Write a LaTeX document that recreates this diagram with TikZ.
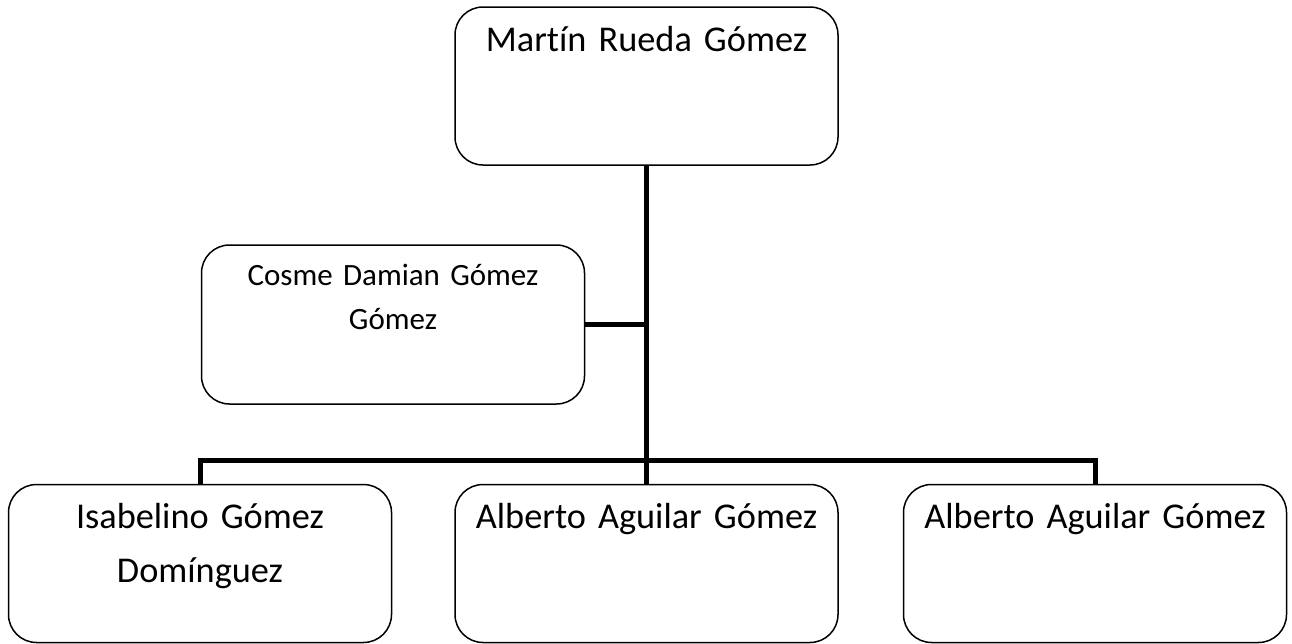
\documentclass[tikz,border=0pt]{standalone}
\usepackage{fontspec}
\setmainfont{Carlito}[Ligatures=NoCommon]
\usepackage{tikz}
\usetikzlibrary{positioning}
\newcommand{\namefont}{\fontsize{36.3pt}{54pt}\selectfont}
\newcommand{\smallnamefont}{\fontsize{31pt}{44pt}\selectfont}
\tikzset{
  wire/.style={line width=5pt,draw=black},
  person/.style={draw=black,line width=1.5pt,rounded corners=28pt,fill=white,align=center,inner sep=0pt,
    text width=375pt,minimum width=383pt,text height=44pt,text depth=114pt,font=\namefont},
  aide/.style={person,text height=40pt,text depth=119pt,font=\smallnamefont}
}
\begin{document}
\begin{tikzpicture}[x=1pt,y=-1pt,node distance=318pt and 62pt]
  \useasboundingbox (0,0) rectangle (1292,643);
  \node[person] (boss) at (646.5,86) {Martín Rueda Gómez};
  \node[aide] (cosme) at (393,324.5) {Cosme Damian Gómez\\Gómez};
  \node[person,below=of boss] (kidB) {Alberto Aguilar Gómez};
  \node[person,left=of kidB] (kidA) {Isabelino Gómez\\Domínguez};
  \node[person,right=64pt of kidB] (kidC) {Alberto Aguilar Gómez};
  \coordinate (bar) at (646.5,460);
  \draw[wire] (boss.south)--(kidB.north);
  \draw[wire] (kidA.north) |- (bar) -| (kidC.north);
  \draw[wire] (cosme.east)--(cosme.east -| boss.south);
\end{tikzpicture}
\end{document}
